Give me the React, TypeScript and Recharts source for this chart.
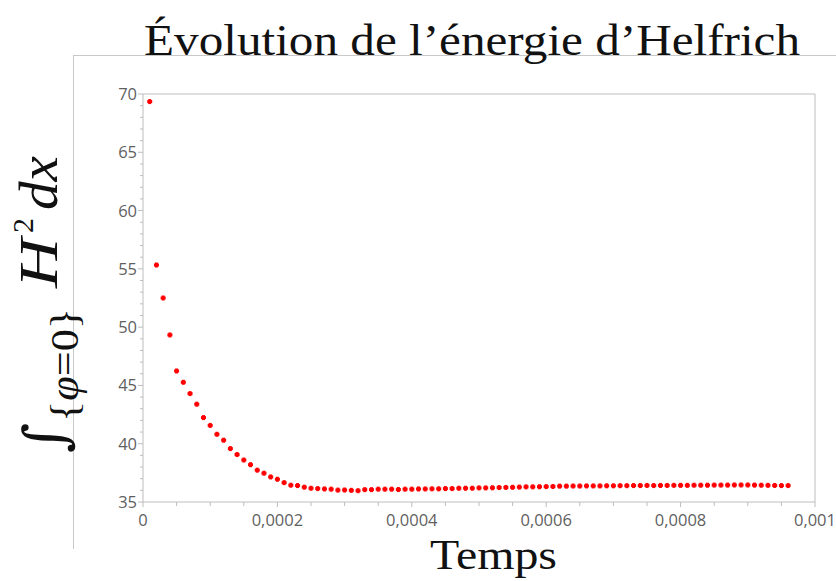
import React from 'react';
import { ScatterChart, Scatter, XAxis, YAxis, ReferenceLine } from 'recharts';

// time (s) of each saved step
const times = [
  1e-5, 2e-5, 3e-5, 4e-5, 5e-5, 6e-5, 7e-5, 8e-5, 9e-5, 10e-5,
  11e-5, 12e-5, 13e-5, 14e-5, 15e-5, 16e-5, 17e-5, 18e-5, 19e-5, 20e-5,
  21e-5, 22e-5, 23e-5, 24e-5, 25e-5, 26e-5, 27e-5, 28e-5, 29e-5, 30e-5,
  31e-5, 32e-5, 33e-5, 34e-5, 35e-5, 36e-5, 37e-5, 38e-5, 39e-5, 40e-5,
  41e-5, 42e-5, 43e-5, 44e-5, 45e-5, 46e-5, 47e-5, 48e-5, 49e-5, 50e-5,
  51e-5, 52e-5, 53e-5, 54e-5, 55e-5, 56e-5, 57e-5, 58e-5, 59e-5, 60e-5,
  61e-5, 62e-5, 63e-5, 64e-5, 65e-5, 66e-5, 67e-5, 68e-5, 69e-5, 70e-5,
  71e-5, 72e-5, 73e-5, 74e-5, 75e-5, 76e-5, 77e-5, 78e-5, 79e-5, 80e-5,
  81e-5, 82e-5, 83e-5, 84e-5, 85e-5, 86e-5, 87e-5, 88e-5, 89e-5, 90e-5,
  91e-5, 92e-5, 93e-5, 94e-5, 95e-5, 96e-5,
];

// Helfrich energy
const energy = [
  69.35, 55.33, 52.5, 49.33, 46.24, 45.27, 44.3, 43.39, 42.24, 41.57,
  40.81, 40.3, 39.58, 39.07, 38.6, 38.2, 37.73, 37.47, 37.15, 36.95,
  36.66, 36.44, 36.41, 36.27, 36.18, 36.15, 36.12, 36.1, 36.02, 36.03,
  36.0, 35.97, 36.06, 36.06, 36.1, 36.1, 36.1, 36.07, 36.1, 36.1,
  36.12, 36.12, 36.13, 36.13, 36.15, 36.15, 36.18, 36.18, 36.18, 36.21,
  36.21, 36.22, 36.24, 36.25, 36.26, 36.28, 36.3, 36.3, 36.31, 36.32,
  36.33, 36.36, 36.36, 36.37, 36.37, 36.38, 36.38, 36.38, 36.39, 36.39,
  36.4, 36.4, 36.41, 36.41, 36.42, 36.41, 36.42, 36.42, 36.43, 36.43,
  36.43, 36.44, 36.44, 36.44, 36.45, 36.45, 36.45, 36.46, 36.46, 36.46,
  36.45, 36.44, 36.43, 36.42, 36.41, 36.41,
];

const xTicks = [
  0, 0.00005, 0.0001, 0.00015, 0.0002, 0.00025, 0.0003, 0.00035, 0.0004, 0.00045,
  0.0005, 0.00055, 0.0006, 0.00065, 0.0007, 0.00075, 0.0008, 0.00085, 0.0009, 0.00095, 0.001,
];
const xLabels = [0, 0.0002, 0.0004, 0.0006, 0.0008, 0.001];

const yTicks = [
  35, 36, 37, 38, 39, 40, 41, 42, 43, 44, 45, 46, 47, 48, 49, 50, 51, 52,
  53, 54, 55, 56, 57, 58, 59, 60, 61, 62, 63, 64, 65, 66, 67, 68, 69, 70,
];
const yLabels = [35, 40, 45, 50, 55, 60, 65, 70];

const points = times.map((t, i) => ({ t, e: energy[i] }));

const AXIS = '#bdbdbd';
const LABEL = '#5f5f5f';
const TICK_FONT = '"Open Sans", sans-serif';

const isIn = (list: number[], v: number) => list.some((l) => Math.abs(l - v) < 1e-9);

function XTick(props: any) {
  const { x, y, payload } = props;
  const major = isIn(xLabels, payload.value);
  return (
    <g>
      <line x1={x} x2={x} y1={y} y2={y + (major ? 5 : 4)} stroke={AXIS} />
      {major && (
        <text x={x} y={y + 24} textAnchor="middle" fontFamily={TICK_FONT} fontSize={16.5} fill={LABEL}>
          {String(payload.value).replace('.', ',')}
        </text>
      )}
    </g>
  );
}

function YTick(props: any) {
  const { x, y, payload } = props;
  const major = isIn(yLabels, payload.value);
  return (
    <g>
      <line x1={x} x2={x - (major ? 5 : 3)} y1={y} y2={y} stroke={AXIS} />
      {major && (
        <text x={x - 6} y={y + 6} textAnchor="end" fontFamily={TICK_FONT} fontSize={16.5} fill={LABEL}>
          {payload.value}
        </text>
      )}
    </g>
  );
}

function Dot(props: any) {
  const { cx, cy } = props;
  return (
    <g fill="#ff0000">
      <rect x={cx - 2.5} y={cy - 1.5} width={5} height={3} />
      <rect x={cx - 1.5} y={cy - 2.5} width={3} height={5} />
    </g>
  );
}

export default function App() {
  return (
    <div style={{ position: 'absolute', left: 0, top: 0, width: 836, height: 581, background: '#fff' }}>
      <svg width={836} height={581} style={{ position: 'absolute', left: 0, top: 0 }}>
        <line x1={73.5} x2={73.5} y1={55} y2={549} stroke="#c8c8c8" />
        <line x1={73.5} x2={836} y1={55.5} y2={55.5} stroke="#c8c8c8" />
      </svg>
      <div style={{ position: 'absolute', left: 0, top: 0 }}>
        <ScatterChart width={836} height={581} margin={{ top: 94, right: 21, bottom: 49, left: 83 }}>
          <XAxis
            type="number"
            dataKey="t"
            domain={[0, 0.001]}
            ticks={xTicks}
            interval={0}
            tickSize={0}
            tickMargin={0}
            tickLine={false}
            tick={<XTick />}
            axisLine={{ stroke: AXIS }}
            height={30}
          />
          <YAxis
            type="number"
            dataKey="e"
            domain={[35, 70]}
            ticks={yTicks}
            interval={0}
            tickSize={0}
            tickMargin={0}
            tickLine={false}
            tick={<YTick />}
            axisLine={{ stroke: AXIS }}
            width={60}
          />
          <ReferenceLine y={70} stroke={AXIS} />
          <ReferenceLine x={0.001} stroke={AXIS} />
          <Scatter data={points} shape={<Dot />} isAnimationActive={false} />
        </ScatterChart>
      </div>
      <svg width={836} height={581} style={{ position: 'absolute', left: 0, top: 0, pointerEvents: 'none' }}>
        <text x={144} y={55} fontFamily='"Liberation Serif", serif' fontSize={44} textLength={656} lengthAdjust="spacingAndGlyphs" fill="#111">
          Évolution de l’énergie d’Helfrich
        </text>
        <text x={430} y={569} fontFamily='"Liberation Serif", serif' fontSize={43} textLength={127} lengthAdjust="spacingAndGlyphs" fill="#111">
          Temps
        </text>
        <g transform="translate(57,453) rotate(-90)" fill="#111" fontFamily='"Liberation Serif", serif'>
          <text x={0} y={8} fontFamily='"DejaVu Serif", serif' fontSize={58}>∫</text>
          <text x={31} y={21} fontSize={40} textLength={114} lengthAdjust="spacingAndGlyphs">
            {'{'}<tspan fontStyle="italic">φ</tspan>{'=0}'}
          </text>
          <text x={165} y={0} fontSize={54} fontStyle="italic" textLength={50} lengthAdjust="spacingAndGlyphs">H</text>
          <text x={220} y={-24} fontSize={30}>2</text>
          <text x={243} y={0} fontSize={54} fontStyle="italic" textLength={54} lengthAdjust="spacingAndGlyphs">dx</text>
        </g>
      </svg>
    </div>
  );
}
